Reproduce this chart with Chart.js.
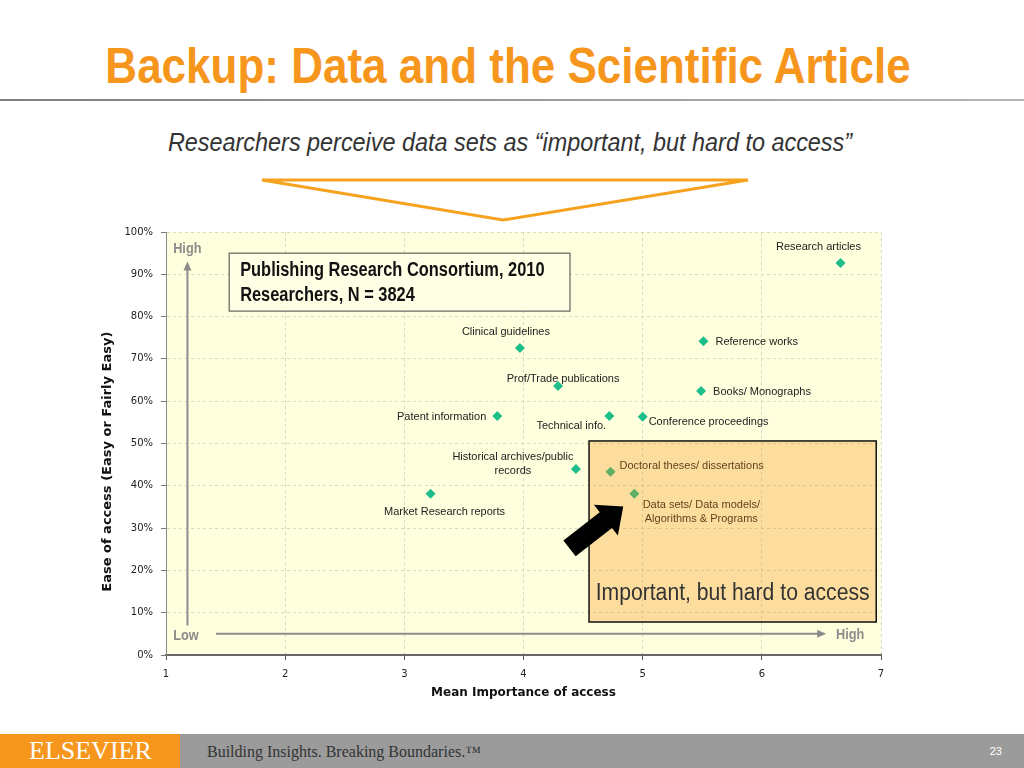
<!DOCTYPE html>
<html>
<head>
<meta charset="utf-8">
<script src="https://cdn.jsdelivr.net/npm/chart.js@4.4.1/dist/chart.umd.min.js"></script>
<style>
  html, body { margin: 0; padding: 0; background: #fff; }
  body { width: 1024px; height: 768px; position: relative; overflow: hidden; font-family: "Liberation Sans", Arial, sans-serif; }
  .title { position: absolute; left: 0; width: 1016px; top: 36px; text-align: center; color: #F7961C;
    font-family: "Liberation Sans", Arial, sans-serif; font-weight: bold; font-size: 50px; line-height: 60px;
    transform: scaleX(0.88); transform-origin: 508px 0; }
  .rule { position: absolute; left: 0; top: 99px; width: 1024px; height: 2px; background: linear-gradient(to right, #7f7f7f, #b5b5b5); }
  .subtitle { position: absolute; left: 0; width: 1020px; top: 127px; text-align: center; color: #333;
    font-family: "Liberation Sans", Arial, sans-serif; font-style: italic; font-size: 26px;
    transform: scaleX(0.9); transform-origin: 510px 0; }
  .tri { position: absolute; left: 0; top: 0; }
  .chart-box { position: absolute; left: 95px; top: 218px; width: 800px; height: 494px; }
  .footer { position: absolute; left: 0; top: 734px; width: 1024px; height: 34px; background: #9b9b9b; }
  .footer .logo { position: absolute; left: 0; top: 0; width: 180px; height: 34px; background: #F7961C; color: #fff;
    font-family: "Liberation Serif", serif; font-size: 26px; line-height: 34px; text-indent: 29px; }
  .footer .tag { position: absolute; left: 207px; top: 0; line-height: 36px; color: #333; font-family: "Liberation Serif", serif; font-size: 16px; }
  .footer .page { position: absolute; right: 22px; top: 0; line-height: 34px; color: #fff; font-size: 11px; }
</style>
</head>
<body>
<div class="title">Backup: Data and the Scientific Article</div>
<div class="rule"></div>
<div class="subtitle">Researchers perceive data sets as “important, but hard to access”</div>
<svg class="tri" width="1024" height="240">
  <polygon points="262,180 748,180 503,220" fill="none" stroke="#F7A21E" stroke-width="3" stroke-linejoin="miter"/>
</svg>
<div class="chart-box"><canvas id="myChart" width="800" height="494"></canvas></div>
<div class="footer">
  <div class="logo">ELSEVIER</div>
  <div class="tag">Building Insights. Breaking Boundaries.™</div>
  <div class="page">23</div>
</div>
<script>
const categories = [
  'Research articles',
  'Clinical guidelines',
  'Reference works',
  'Prof/Trade publications',
  'Books/ Monographs',
  'Patent information',
  'Technical info.',
  'Conference proceedings',
  'Historical archives/public\nrecords',
  'Doctoral theses/ dissertations',
  'Market Research reports',
  'Data sets/ Data models/\nAlgorithms & Programs',
];
const importance = [6.66, 3.97, 5.51, 4.29, 5.49, 3.78, 4.72, 5.0, 4.44, 4.73, 3.22, 4.93];
const easeOfAccess = [92.7, 72.6, 74.2, 63.6, 62.4, 56.5, 56.5, 56.3, 44.0, 43.3, 38.1, 38.1];

// label placement relative to each point: [dx, dy, align]
const labelPlacement = [
  [-22, -16, 'center'],
  [-14, -16, 'center'],
  [12, 1, 'left'],
  [5, -7, 'center'],
  [12, 1, 'left'],
  [-11, 1, 'right'],
  [-38, 10, 'center'],
  [6, 5, 'left'],
  [-63, -12, 'center'],
  [9, -6, 'left'],
  [14, 18, 'center'],
  [67, 11, 'center'],
];

const ctx = document.getElementById('myChart');

// narrow text: draw a normal font squeezed horizontally
function narrowText(c, text, x, y, sx) {
  c.save();
  c.translate(x, y);
  c.scale(sx, 1);
  c.fillText(text, 0, 0);
  c.restore();
}

const plotDecor = {
  id: 'plotDecor',
  beforeDraw(chart) {
    const { ctx, chartArea: a, scales: { y } } = chart;
    ctx.save();
    ctx.fillStyle = '#FFFFDE';
    ctx.fillRect(a.left, a.top, a.right - a.left, a.bottom - a.top);

    // y axis title, centred lower than the scale middle
    ctx.font = 'bold 13px "DejaVu Sans", Verdana, sans-serif';
    ctx.fillStyle = '#111';
    ctx.textAlign = 'center';
    ctx.textBaseline = 'middle';
    ctx.translate(13, y.getPixelForValue(45.7));
    ctx.rotate(-Math.PI / 2);
    ctx.fillText('Ease of access (Easy or Fairly Easy)', 0, 0);
    ctx.restore();
  },
  afterDatasetsDraw(chart) {
    const { ctx, scales: { x, y } } = chart;
    const meta = chart.getDatasetMeta(0);
    ctx.save();

    // point labels
    ctx.font = '11px "Liberation Sans", Arial, sans-serif';
    ctx.fillStyle = '#222';
    ctx.textBaseline = 'middle';
    meta.data.forEach((pt, i) => {
      const [dx, dy, align] = labelPlacement[i];
      ctx.textAlign = align;
      categories[i].split('\n').forEach((line, j) => {
        ctx.fillText(line, pt.x + dx, pt.y + dy + j * 14);
      });
    });

    // translucent "important, but hard to access" quadrant
    const bx = x.getPixelForValue(4.55), bx2 = x.getPixelForValue(6.96);
    const by = y.getPixelForValue(50.6), by2 = y.getPixelForValue(7.8);
    ctx.fillStyle = 'rgba(245, 142, 9, 0.3)';
    ctx.fillRect(bx, by, bx2 - bx, by2 - by);
    ctx.strokeStyle = '#111';
    ctx.lineWidth = 1.5;
    ctx.strokeRect(bx, by, bx2 - bx, by2 - by);
    ctx.font = '23.5px "Liberation Sans", Arial, sans-serif';
    ctx.fillStyle = '#333';
    ctx.textAlign = 'center';
    narrowText(ctx, 'Important, but hard to access', (bx + bx2) / 2, y.getPixelForValue(14.5), 0.9);

    // gray direction arrows
    ctx.strokeStyle = '#8c8c8c';
    ctx.fillStyle = '#8c8c8c';
    ctx.lineWidth = 2;
    const ax = x.getPixelForValue(1.18);
    const ayTop = y.getPixelForValue(93), ayBot = y.getPixelForValue(7);
    ctx.beginPath(); ctx.moveTo(ax, ayBot); ctx.lineTo(ax, ayTop + 6); ctx.stroke();
    ctx.beginPath(); ctx.moveTo(ax, ayTop); ctx.lineTo(ax - 4, ayTop + 9); ctx.lineTo(ax + 4, ayTop + 9); ctx.closePath(); ctx.fill();
    const hy = y.getPixelForValue(5);
    const hx1 = x.getPixelForValue(1.42), hx2 = x.getPixelForValue(6.54);
    ctx.beginPath(); ctx.moveTo(hx1, hy); ctx.lineTo(hx2 - 6, hy); ctx.stroke();
    ctx.beginPath(); ctx.moveTo(hx2, hy); ctx.lineTo(hx2 - 9, hy - 4); ctx.lineTo(hx2 - 9, hy + 4); ctx.closePath(); ctx.fill();

    ctx.font = 'bold 15px "Liberation Sans", Arial, sans-serif';
    ctx.textBaseline = 'middle';
    ctx.textAlign = 'left';
    narrowText(ctx, 'High', x.getPixelForValue(1.06), y.getPixelForValue(96), 0.85);
    narrowText(ctx, 'Low', x.getPixelForValue(1.06), y.getPixelForValue(4.5), 0.85);
    ctx.textAlign = 'right';
    narrowText(ctx, 'High', x.getPixelForValue(6.86), y.getPixelForValue(4.7), 0.85);

    // source box
    const sx = x.getPixelForValue(1.53), sx2 = x.getPixelForValue(4.39);
    const sy = y.getPixelForValue(95), sy2 = y.getPixelForValue(81.3);
    ctx.fillStyle = '#FFFFE6';
    ctx.fillRect(sx, sy, sx2 - sx, sy2 - sy);
    ctx.strokeStyle = '#444';
    ctx.lineWidth = 1;
    ctx.strokeRect(sx, sy, sx2 - sx, sy2 - sy);
    ctx.fillStyle = '#111';
    ctx.textAlign = 'left';
    ctx.font = 'bold 20px "Liberation Sans", Arial, sans-serif';
    narrowText(ctx, 'Publishing Research Consortium, 2010', sx + 11, sy + 17, 0.82);
    narrowText(ctx, 'Researchers, N = 3824', sx + 11, sy + 42, 0.82);

    // black pointer arrow
    const tx = x.getPixelForValue(4.386), ty = y.getPixelForValue(25.2);
    const px = x.getPixelForValue(4.837), py = y.getPixelForValue(35.1);
    const len = Math.hypot(px - tx, py - ty);
    const ux = (px - tx) / len, uy = (py - ty) / len;
    const nx = -uy, ny = ux;
    const shaft = 10, head = 19.5, headLen = 22;
    const hbx = px - ux * headLen, hby = py - uy * headLen;
    ctx.fillStyle = '#000';
    ctx.beginPath();
    ctx.moveTo(tx + nx * shaft, ty + ny * shaft);
    ctx.lineTo(hbx + nx * shaft, hby + ny * shaft);
    ctx.lineTo(hbx + nx * head, hby + ny * head);
    ctx.lineTo(px, py);
    ctx.lineTo(hbx - nx * head, hby - ny * head);
    ctx.lineTo(hbx - nx * shaft, hby - ny * shaft);
    ctx.lineTo(tx - nx * shaft, ty - ny * shaft);
    ctx.closePath();
    ctx.fill();
    ctx.restore();
  },
};

new Chart(ctx, {
  type: 'scatter',
  data: {
    datasets: [
      {
        data: importance.map((v, i) => ({ x: v, y: easeOfAccess[i] })),
        pointStyle: 'rectRot',
        pointRadius: 5,
        backgroundColor: '#1EBE8C',
        borderColor: '#1EBE8C',
        borderWidth: 0,
      },
    ],
  },
  options: {
    responsive: false,
    animation: false,
    devicePixelRatio: 1,
    layout: { padding: { top: 6, right: 14, left: 0, bottom: 0 } },
    plugins: { legend: { display: false }, tooltip: { enabled: false } },
    scales: {
      x: {
        type: 'linear',
        min: 1,
        max: 7,
        afterFit: (scale) => { scale.height = 57; },
        ticks: { stepSize: 1, padding: 8, color: '#222', font: { family: 'DejaVu Sans', size: 10 } },
        grid: { color: '#d8d8c8', tickColor: '#555', tickLength: 5 },
        border: { color: '#666', width: 2, dash: [3, 3] },
        title: {
          display: true,
          text: 'Mean Importance of access',
          color: '#111',
          padding: 12,
          font: { family: 'DejaVu Sans', size: 12, weight: 'bold' },
        },
      },
      y: {
        min: 0,
        max: 100,
        afterFit: (scale) => { scale.width = 71; },
        ticks: {
          stepSize: 10,
          padding: 8,
          color: '#222',
          font: { family: 'DejaVu Sans', size: 10 },
          callback: (v) => v + '%',
        },
        grid: { color: '#d8d8c8', tickColor: '#777', tickLength: 5 },
        border: { color: '#888', width: 1, dash: [3, 3] },
        title: { display: false },
      },
    },
  },
  plugins: [plotDecor],
});
</script>
</body>
</html>
